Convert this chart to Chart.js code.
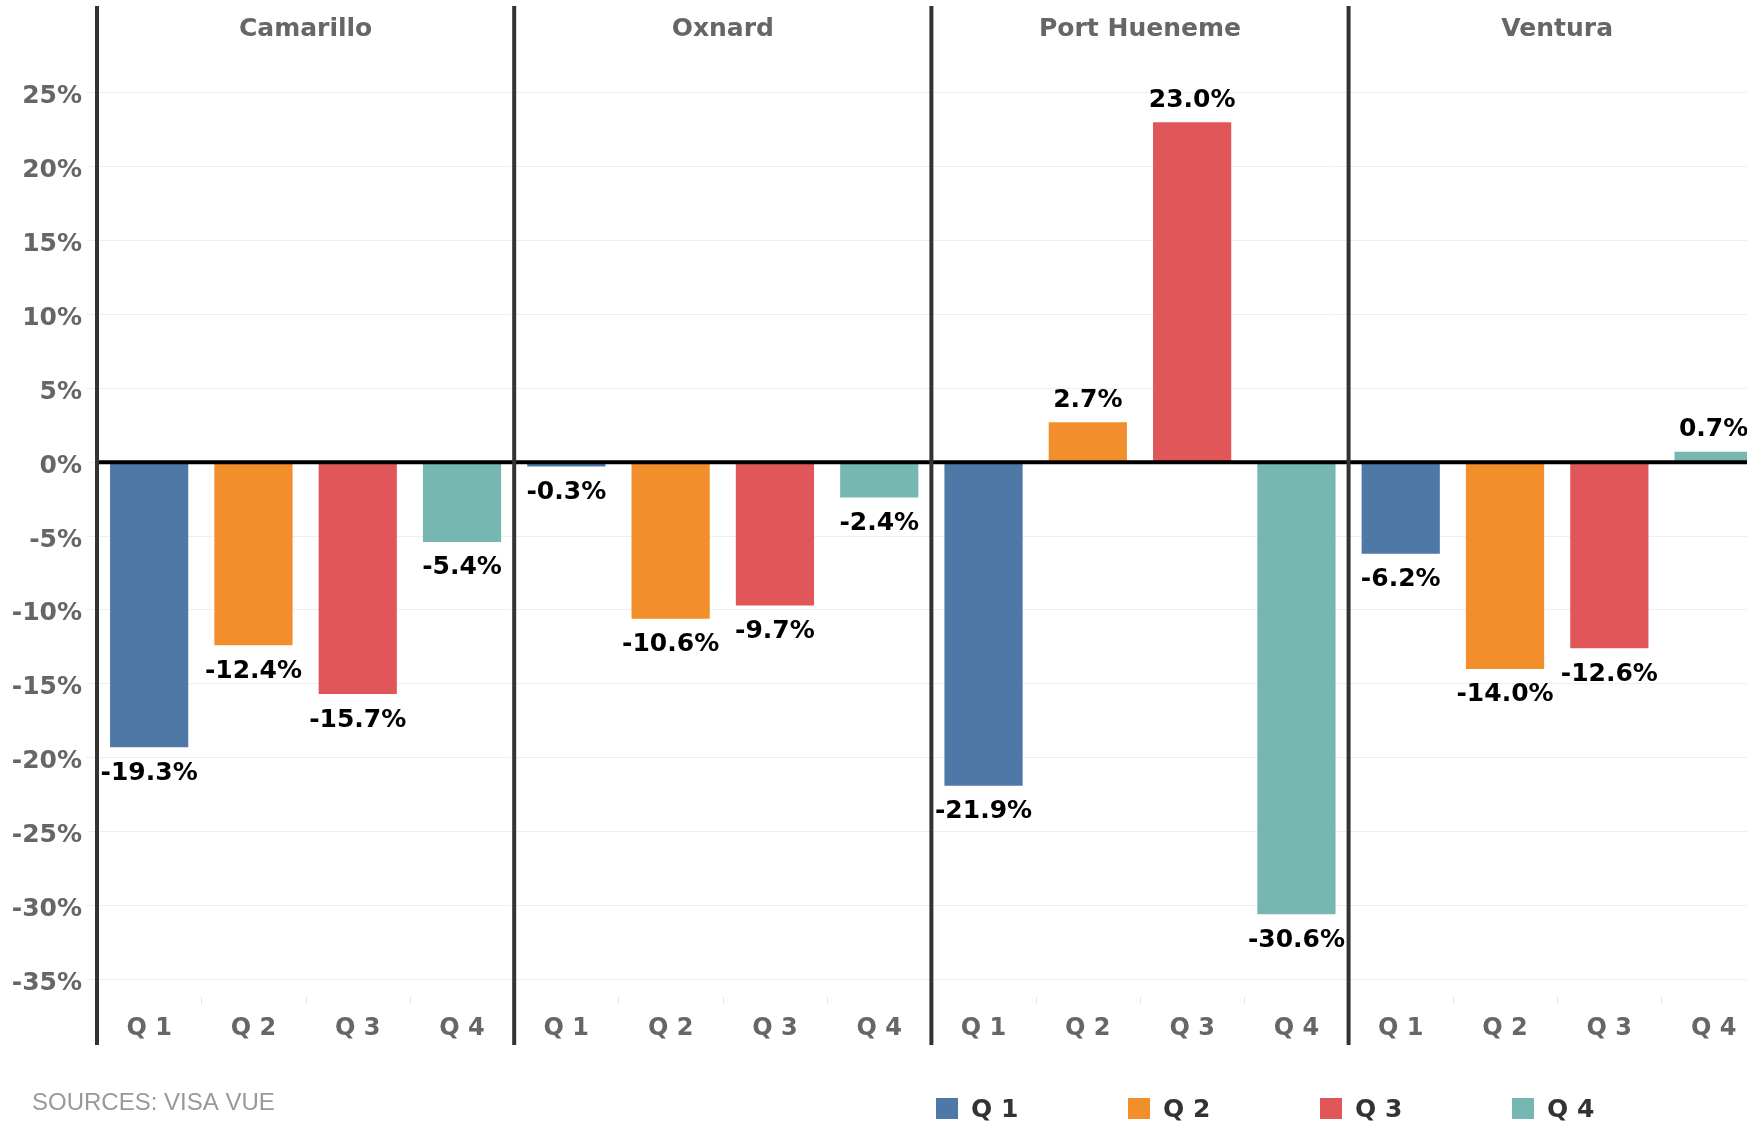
<!DOCTYPE html>
<html lang="en">
<head>
    <meta charset="UTF-8">
    <title>Quarterly Change by City</title>
    <script src="https://cdn.jsdelivr.net/npm/chart.js"></script>
    <style>
        body { margin: 0; overflow: hidden; background: #fff; }
        #chart { display: block; }
    </style>
</head>
<body>
    <canvas id="chart" width="1747" height="1130"></canvas>

    <script>
        // Cities (panels) and quarters
        const cities = ['Camarillo', 'Oxnard', 'Port Hueneme', 'Ventura'];
        const quarters = ['Q1', 'Q2', 'Q3', 'Q4'];

        // Percent change per quarter, one value per city
        const q1Values = [-19.3, -0.3, -21.9, -6.2];
        const q2Values = [-12.4, -10.6, 2.7, -14.0];
        const q3Values = [-15.7, -9.7, 23.0, -12.6];
        const q4Values = [-5.4, -2.4, -30.6, 0.7];

        const quarterColors = ['#4e79a7', '#f28e2b', '#e15759', '#76b7b2'];
        const sourceNote = 'SOURCES: VISA VUE';

        const seriesValues = [q1Values, q2Values, q3Values, q4Values];

        // spaced label, e.g. "Q 1"
        const spaced = q => q.replace(/(\D)(\d)/, '$1 $2');

        // each city takes 4 slots on the x axis
        const datasets = quarters.map((q, qi) => ({
            label: q,
            data: seriesValues[qi].map((v, ci) => ({ x: ci * quarters.length + qi, y: v })),
            backgroundColor: quarterColors[qi],
            borderWidth: 0
        }));

        const panelPlugin = {
            id: 'panels',
            afterDatasetsDraw(chart) {
                const { ctx, chartArea, scales: { x, y } } = chart;
                ctx.save();

                // zero line sits on top of the bars
                const y0 = y.getPixelForValue(0);
                ctx.strokeStyle = '#000';
                ctx.lineWidth = 4;
                ctx.beginPath();
                ctx.moveTo(chartArea.left, y0);
                ctx.lineTo(chartArea.right, y0);
                ctx.stroke();

                // small separators between quarters under the plot
                ctx.strokeStyle = '#e4e4e4';
                ctx.lineWidth = 1;
                for (let i = 1; i < cities.length * quarters.length; i++) {
                    if (i % quarters.length === 0) continue;
                    const px = Math.round(x.getPixelForValue(i - 0.5)) + 0.5;
                    ctx.beginPath();
                    ctx.moveTo(px, chartArea.bottom + 3);
                    ctx.lineTo(px, chartArea.bottom + 10);
                    ctx.stroke();
                }

                // panel dividers, running through header and axis rows
                ctx.strokeStyle = '#333';
                ctx.lineWidth = 4;
                for (let c = 0; c <= cities.length; c++) {
                    const px = c === 0 ? chartArea.left : x.getPixelForValue(c * quarters.length - 0.5);
                    ctx.beginPath();
                    ctx.moveTo(px, 6);
                    ctx.lineTo(px, chartArea.bottom + 51);
                    ctx.stroke();
                }

                // value labels at the end of each bar
                ctx.fillStyle = '#000';
                ctx.font = 'bold 25px "DejaVu Sans"';
                ctx.textAlign = 'center';
                ctx.textBaseline = 'middle';
                chart.data.datasets.forEach((ds, di) => {
                    chart.getDatasetMeta(di).data.forEach((bar, i) => {
                        const v = ds.data[i].y;
                        const ty = v < 0 ? bar.y + 26 : bar.y - 22;
                        ctx.fillText(v.toFixed(1) + '%', bar.x, ty);
                    });
                });
                ctx.restore();
            },
            afterDraw(chart) {
                const { ctx, scales: { x } } = chart;
                ctx.save();

                // city names over each panel
                ctx.fillStyle = '#666';
                ctx.font = 'bold 25px "DejaVu Sans"';
                ctx.textAlign = 'center';
                ctx.textBaseline = 'middle';
                cities.forEach((city, c) => {
                    const cx = x.getPixelForValue(c * quarters.length + (quarters.length - 1) / 2);
                    ctx.fillText(city, cx, 29);
                });

                // source note
                ctx.fillStyle = '#999';
                ctx.font = '24px "Liberation Sans"';
                ctx.textAlign = 'left';
                ctx.fillText(sourceNote, 32, 1103);

                // legend
                ctx.font = 'bold 25px "DejaVu Sans"';
                chart.data.datasets.forEach((ds, i) => {
                    const lx = 936 + i * 192;
                    ctx.fillStyle = ds.backgroundColor;
                    ctx.fillRect(lx, 1098, 22, 21);
                    ctx.fillStyle = '#333';
                    ctx.fillText(spaced(ds.label), lx + 35, 1110);
                });
                ctx.restore();
            }
        };

        new Chart(document.getElementById('chart'), {
            type: 'bar',
            data: { datasets },
            options: {
                responsive: false,
                animation: false,
                grouped: false,
                barPercentage: 0.75,
                categoryPercentage: 1,
                layout: { padding: { top: 47, left: 0, right: 0, bottom: 0 } },
                plugins: {
                    legend: { display: false },
                    tooltip: { enabled: false }
                },
                scales: {
                    x: {
                        type: 'linear',
                        offset: false,
                        min: -0.5,
                        max: 15.32,
                        grid: { display: false, drawTicks: false },
                        border: { display: false },
                        ticks: {
                            stepSize: 1,
                            includeBounds: false,
                            autoSkip: false,
                            maxRotation: 0,
                            padding: 20,
                            color: '#666',
                            font: { family: 'DejaVu Sans', size: 24, weight: 'bold' },
                            callback: v => spaced(quarters[v % quarters.length])
                        },
                        // last panel runs off the right edge, so no side padding
                        afterFit: s => {
                            s.height = 136;
                            s.paddingLeft = 0;
                            s.paddingRight = 0;
                        }
                    },
                    y: {
                        min: -36.0,
                        max: 28.1,
                        grid: { color: '#efefef', lineWidth: 1, tickLength: 10, tickColor: '#efefef' },
                        border: { display: false },
                        ticks: {
                            stepSize: 5,
                            includeBounds: false,
                            padding: 5,
                            labelOffset: 4,
                            color: '#666',
                            font: { family: 'DejaVu Sans', size: 25, weight: 'bold' },
                            callback: v => v + '%'
                        },
                        afterFit: s => { s.width = 97; }
                    }
                }
            },
            plugins: [panelPlugin]
        });
    </script>
</body>
</html>
